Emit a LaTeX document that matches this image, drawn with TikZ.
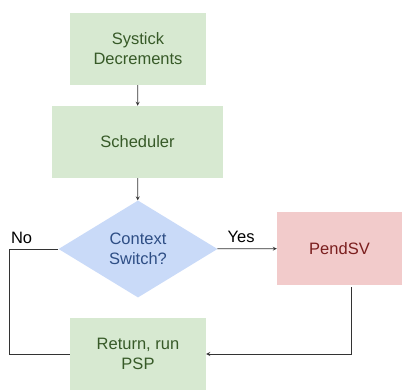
\documentclass[tikz,border=0pt]{standalone}
\usepackage{fontspec}
\setmainfont{Liberation Sans}
\usetikzlibrary{shapes.geometric}
\definecolor{boxgreen}{HTML}{D7E9D1}
\definecolor{txtgreen}{HTML}{375A28}
\definecolor{boxblue}{HTML}{C9DAF8}
\definecolor{txtblue}{HTML}{2E4E85}
\definecolor{boxred}{HTML}{F2CBCB}
\definecolor{txtred}{HTML}{7A1E1E}
\definecolor{linegray}{HTML}{333333}
\begin{document}
\begin{tikzpicture}[x=1pt,y=1pt,>=stealth,font=\fontsize{16.5}{20}\selectfont,
    greenbox/.style={fill=boxgreen,text=txtgreen,minimum width=136pt,minimum height=72pt,align=center,inner sep=0},
    link/.style={draw=linegray,line width=0.8pt}]
    \useasboundingbox (0,0) rectangle (407,390);
    \node[greenbox] (systick) at (138,341) {Systick\\Decrements};
    \node[greenbox,minimum width=171pt] (sched) at (137.5,248) {Scheduler};
    \node[diamond,aspect=1.6,inner sep=0,minimum width=159pt,minimum height=97pt,fill=boxblue,text=txtblue,align=center] (ctxsw) at (138,141) {Context\\Switch?};
    \node[fill=boxred,text=txtred,minimum width=125pt,minimum height=73pt,inner sep=0] (pendsv) at (339.5,141.5) {PendSV};
    \node[greenbox] (ret) at (138,36) {Return, run\\PSP};
    \draw[link,->] (systick) -- (sched);
    \draw[link,->] (sched) -- (ctxsw);
    \draw[link,->] (ctxsw) -- node[above,pos=0.4,yshift=2pt]{Yes} (pendsv);
    \draw[link,->] ([xshift=12pt,yshift=-2pt]pendsv.south) |- (ret.east);
    \draw[link] (ctxsw.west) -- ++(-49,0) node[above right,xshift=-2pt,yshift=2pt]{No} |- (ret.west);
\end{tikzpicture}
\end{document}
